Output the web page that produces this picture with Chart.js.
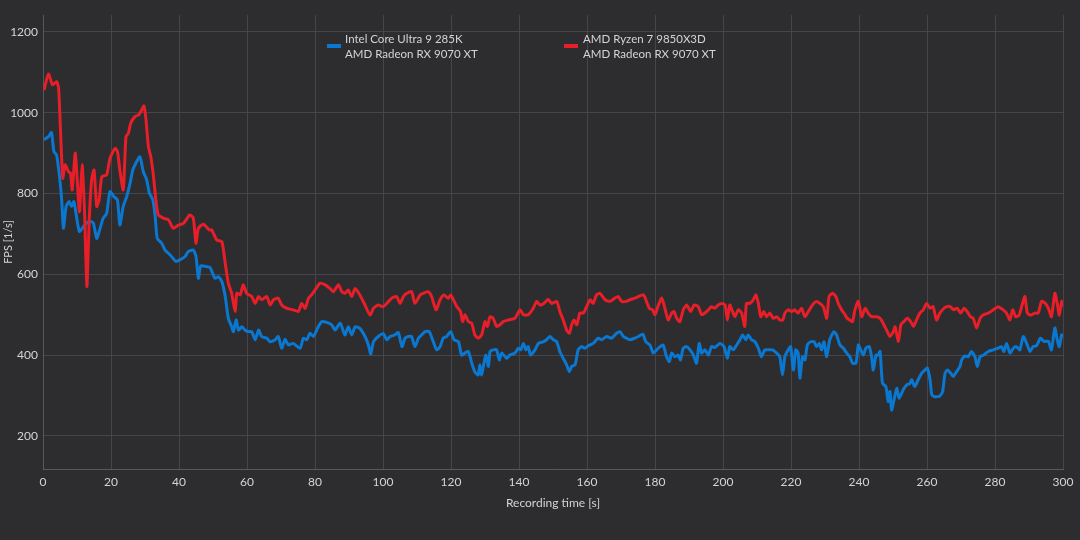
<!DOCTYPE html>
<html lang="en">
<head>
    <meta charset="UTF-8">
    <title>FPS over recording time</title>
    <script src="https://cdn.jsdelivr.net/npm/chart.js"></script>
    <style>
        html, body { margin: 0; padding: 0; background: #2d2d30; }
        .chart-box { width: 1080px; height: 540px; }
    </style>
</head>
<body>
<div class="chart-box"><canvas id="fpsChart"></canvas></div>
<script>
    // Legend text (two lines each)
    const intelLabel = ['Intel Core Ultra 9 285K', 'AMD Radeon RX 9070 XT'];
    const amdLabel = ['AMD Ryzen 7 9850X3D', 'AMD Radeon RX 9070 XT'];

    const yTicks = [200, 400, 600, 800, 1000, 1200];

    // Intel Core Ultra 9 285K - recording time [s] / FPS
    const intelTime = [
        0.3, 1.6, 2.5, 3.2, 4.0, 4.8, 5.5, 6.0, 6.8, 7.7,
        8.4, 9.1, 9.7, 10.7, 11.9, 12.8, 13.8, 14.8, 15.8, 16.8,
        17.7, 18.7, 19.7, 20.9, 21.9, 22.6, 23.6, 24.6, 25.6, 26.4,
        27.3, 28.5, 29.5, 30.5, 31.3, 32.3, 33.0, 33.6, 34.9, 35.9,
        36.9, 37.8, 39.1, 40.3, 41.8, 42.7, 44.2, 45.0, 45.7, 46.4,
        48.1, 49.1, 50.6, 51.6, 52.6, 53.6, 54.5, 55.5, 56.0, 56.8,
        57.5, 58.5, 59.4, 60.4, 61.4, 62.4, 63.4, 64.3, 65.8, 66.8,
        68.3, 69.2, 70.2, 71.2, 72.2, 73.6, 75.6, 76.6, 77.6, 78.5,
        79.5, 80.3, 81.0, 82.0, 83.4, 84.9, 85.9, 87.4, 88.8, 89.8,
        90.8, 91.8, 93.2, 94.7, 95.7, 96.4, 97.2, 98.6, 100.1, 101.1,
        102.1, 103.5, 104.5, 105.6, 106.5, 107.5, 108.4, 109.4, 110.4, 111.4,
        112.4, 113.6, 114.8, 115.8, 116.8, 117.7, 118.7, 119.9, 120.9, 122.2,
        123.1, 124.1, 125.1, 126.1, 127.0, 128.0, 128.5, 129.0, 129.7, 130.3,
        131.0, 131.5, 132.4, 133.4, 134.2, 134.9, 136.4, 137.3, 138.8, 139.8,
        140.5, 141.3, 142.0, 142.7, 143.4, 144.7, 145.7, 147.1, 148.1, 149.1,
        150.1, 151.1, 152.0, 153.0, 154.0, 154.8, 155.5, 156.5, 157.4, 158.4,
        159.4, 160.4, 161.8, 163.3, 164.3, 165.8, 167.2, 168.7, 169.7, 170.7,
        171.6, 172.6, 174.1, 175.1, 176.4, 177.3, 178.5, 179.5, 180.5, 181.5,
        182.4, 183.4, 184.2, 184.9, 185.9, 186.8, 187.5, 188.3, 189.3, 190.3,
        191.3, 192.2, 193.0, 193.7, 194.7, 195.7, 196.6, 197.6, 199.1, 200.3,
        201.3, 202.0, 203.0, 204.0, 205.0, 205.8, 206.7, 207.4, 208.4, 209.4,
        210.4, 211.3, 212.3, 213.3, 214.6, 215.8, 216.7, 217.5, 218.2, 219.2,
        219.9, 220.7, 221.4, 222.1, 222.6, 223.4, 224.1, 224.8, 225.8, 226.8,
        227.5, 228.3, 229.0, 229.7, 230.5, 231.4, 232.6, 233.4, 234.4, 235.4,
        236.4, 237.3, 238.1, 239.1, 239.8, 240.5, 241.3, 242.0, 243.0, 243.7,
        244.2, 245.0, 245.6, 246.2, 246.9, 247.9, 248.6, 249.1, 249.6, 250.3,
        251.1, 251.8, 253.0, 254.0, 255.0, 255.5, 256.4, 257.4, 258.4, 259.4,
        260.1, 260.9, 261.4, 262.3, 263.8, 264.6, 265.3, 266.0, 267.0, 267.7,
        268.7, 269.7, 270.2, 271.2, 272.1, 273.1, 274.1, 274.8, 275.6, 276.7,
        278.0, 279.5, 280.9, 281.9, 282.6, 283.4, 284.4, 285.4, 286.3, 287.3,
        288.3, 289.3, 290.3, 291.2, 292.2, 293.4, 294.4, 295.7, 296.6, 297.6,
        298.3, 298.9, 299.6, 300
    ];
    const intelFps = [
        933, 941, 951, 904, 895, 846, 784, 714, 768, 780,
        768, 780, 751, 706, 718, 727, 731, 727, 689, 714,
        739, 750, 805, 792, 784, 722, 768, 792, 825, 858,
        875, 891, 854, 834, 801, 784, 743, 689, 677, 660,
        652, 644, 632, 636, 644, 656, 660, 644, 590, 621,
        619, 617, 590, 594, 582, 545, 491, 470, 458, 487,
        462, 470, 462, 458, 458, 438, 462, 446, 442, 433,
        438, 446, 417, 439, 425, 429, 417, 442, 438, 454,
        446, 458, 471, 483, 481, 475, 462, 479, 450, 470,
        450, 470, 466, 446, 425, 403, 433, 446, 453, 438,
        446, 450, 456, 421, 442, 446, 446, 421, 442, 450,
        458, 458, 433, 413, 421, 442, 446, 458, 438, 433,
        400, 405, 409, 380, 359, 351, 376, 351, 380, 400,
        372, 409, 413, 413, 388, 405, 392, 400, 405, 417,
        413, 429, 413, 421, 400, 413, 429, 433, 438, 446,
        438, 433, 409, 392, 376, 359, 372, 376, 413, 421,
        417, 423, 429, 442, 438, 446, 442, 454, 458, 446,
        442, 438, 442, 446, 452, 433, 425, 405, 413, 421,
        425, 396, 384, 405, 396, 400, 388, 417, 421, 413,
        400, 380, 429, 405, 413, 400, 421, 419, 429, 421,
        392, 421, 413, 425, 438, 450, 438, 450, 438, 433,
        417, 396, 413, 413, 413, 405, 396, 351, 396, 413,
        421, 363, 413, 405, 343, 396, 388, 425, 433, 433,
        421, 429, 413, 433, 396, 438, 458, 450, 425, 417,
        405, 396, 380, 380, 425, 413, 400, 417, 421, 396,
        363, 400, 400, 409, 330, 322, 285, 310, 264, 289,
        318, 293, 314, 326, 330, 339, 322, 339, 355, 363,
        368, 339, 302, 297, 299, 310, 355, 363, 355, 347,
        359, 372, 388, 398, 396, 409, 396, 372, 396, 400,
        409, 413, 417, 421, 409, 429, 405, 417, 421, 413,
        446, 429, 409, 421, 423, 442, 434, 434, 413, 467,
        438, 421, 450, 446
    ];

    // AMD Ryzen 7 9850X3D - recording time [s] / FPS
    const amdTime = [
        0.3, 1.6, 2.8, 4.0, 4.6, 5.8, 6.5, 7.5, 8.1, 8.6,
        9.5, 10.7, 11.5, 12.2, 12.9, 13.6, 14.3, 15.0, 15.8, 16.5,
        17.3, 18.7, 19.7, 21.2, 21.9, 22.6, 23.6, 24.4, 25.1, 25.8,
        27.1, 28.2, 29.0, 29.7, 30.3, 31.0, 31.7, 32.4, 33.2, 33.9,
        35.4, 36.9, 38.3, 39.8, 41.3, 43.2, 44.2, 45.0, 45.7, 47.2,
        48.9, 49.6, 51.1, 52.6, 53.6, 54.5, 55.5, 56.5, 57.0, 58.0,
        58.9, 59.9, 61.4, 62.4, 63.4, 64.3, 65.8, 66.8, 67.8, 69.2,
        70.2, 71.7, 73.6, 75.1, 76.1, 77.1, 78.1, 79.0, 80.0, 81.5,
        83.0, 84.4, 85.4, 86.9, 87.9, 88.8, 89.8, 90.8, 91.8, 93.2,
        94.7, 96.2, 97.2, 98.6, 100.1, 102.6, 104.0, 105.0, 106.0, 107.0,
        108.4, 109.4, 110.9, 111.9, 113.3, 114.3, 115.6, 116.8, 117.9, 119.2,
        119.9, 120.7, 121.7, 122.8, 123.4, 124.1, 125.1, 126.1, 127.0, 128.0,
        129.0, 130.0, 130.7, 131.5, 132.4, 133.4, 134.4, 135.4, 136.9, 138.8,
        140.3, 141.3, 142.7, 144.2, 145.2, 146.2, 147.3, 148.6, 149.6, 151.1,
        152.0, 153.0, 154.0, 154.8, 155.5, 156.2, 157.0, 157.9, 158.9, 159.9,
        160.9, 161.8, 162.8, 163.8, 165.3, 166.7, 168.2, 169.2, 170.2, 171.6,
        172.6, 174.1, 175.1, 176.6, 177.5, 178.3, 179.3, 180.0, 181.0, 182.0,
        182.9, 183.9, 184.9, 185.6, 186.4, 187.3, 188.3, 189.3, 190.5, 191.5,
        192.7, 193.7, 194.7, 195.7, 196.6, 197.6, 198.6, 199.6, 200.6, 201.3,
        202.0, 202.8, 203.5, 204.5, 205.5, 206.4, 206.9, 207.9, 208.9, 209.7,
        210.4, 211.1, 212.0, 212.8, 213.8, 214.8, 215.8, 216.7, 217.6, 218.2,
        219.2, 220.2, 221.1, 222.1, 223.1, 224.1, 225.1, 226.3, 227.5, 228.5,
        229.5, 230.5, 231.2, 232.2, 233.2, 233.9, 234.9, 235.9, 236.5, 237.3,
        238.1, 238.8, 239.8, 240.8, 241.8, 242.7, 243.7, 245.2, 246.2, 247.1,
        248.1, 249.1, 250.1, 250.6, 251.6, 252.3, 253.2, 254.2, 255.2, 256.0,
        256.9, 257.9, 258.9, 259.9, 260.9, 261.8, 262.8, 263.8, 265.0, 265.8,
        266.8, 267.9, 268.9, 269.9, 270.9, 271.8, 272.8, 273.6, 274.6, 275.6,
        276.5, 278.0, 279.5, 280.9, 282.4, 283.4, 284.4, 285.2, 286.1, 287.1,
        288.1, 288.8, 289.5, 290.5, 291.7, 292.7, 293.7, 294.7, 295.7, 296.6,
        297.6, 298.3, 298.9, 299.6, 300
    ];
    const amdFps = [
        1056, 1096, 1069, 1077, 1060, 838, 871, 854, 850, 809,
        900, 755, 871, 759, 570, 735, 834, 858, 768, 784,
        842, 846, 887, 912, 904, 858, 809, 941, 949, 974,
        991, 995, 1007, 1017, 982, 916, 891, 850, 784, 747,
        739, 735, 714, 722, 726, 747, 739, 677, 714, 724,
        710, 710, 685, 681, 627, 578, 553, 508, 553, 549,
        574, 553, 545, 528, 545, 537, 545, 524, 537, 541,
        524, 516, 512, 508, 528, 516, 541, 549, 561, 578,
        574, 565, 557, 574, 557, 553, 561, 545, 565, 549,
        524, 499, 516, 524, 520, 541, 545, 528, 545, 553,
        557, 528, 549, 553, 557, 545, 512, 537, 549, 541,
        549, 537, 520, 508, 483, 500, 483, 479, 450, 442,
        450, 483, 471, 495, 491, 471, 475, 483, 487, 491,
        512, 500, 500, 516, 533, 524, 528, 538, 528, 533,
        508, 487, 462, 454, 475, 487, 475, 504, 504, 520,
        537, 528, 549, 553, 537, 533, 541, 545, 533, 533,
        537, 541, 545, 549, 533, 516, 512, 500, 524, 541,
        516, 487, 504, 508, 491, 483, 512, 524, 508, 524,
        520, 500, 504, 512, 520, 516, 524, 528, 524, 487,
        524, 508, 495, 512, 504, 471, 528, 528, 537, 549,
        528, 495, 508, 495, 504, 491, 495, 487, 487, 504,
        512, 508, 512, 504, 516, 495, 508, 524, 533, 528,
        520, 491, 545, 553, 545, 528, 512, 500, 491, 487,
        483, 512, 533, 495, 516, 504, 495, 495, 491, 479,
        462, 446, 458, 470, 434, 475, 483, 491, 483, 471,
        487, 504, 512, 528, 516, 520, 487, 504, 516, 520,
        520, 512, 516, 504, 516, 508, 495, 491, 467, 491,
        499, 504, 512, 520, 512, 504, 487, 512, 495, 499,
        528, 545, 504, 499, 504, 504, 533, 529, 516, 495,
        553, 528, 499, 533, 520
    ];

    const textColor = '#d4d4d4';
    const gridColor = '#46464a';
    const fontFamily = 'Lato, "Noto Sans", sans-serif';

    function toPoints(times, values) {
        return times.map((t, i) => ({ x: t, y: values[i] }));
    }

    // Background + two-line legend drawn by hand
    const chartDecor = {
        id: 'chartDecor',
        beforeDraw(chart) {
            const ctx = chart.ctx;
            ctx.save();
            ctx.fillStyle = '#2d2d30';
            ctx.fillRect(0, 0, chart.width, chart.height);
            ctx.restore();
        },
        afterDraw(chart) {
            const ctx = chart.ctx;
            const items = [
                { ds: chart.data.datasets[0], swatchX: 327, textX: 345 },
                { ds: chart.data.datasets[1], swatchX: 564, textX: 583 }
            ];
            ctx.save();
            ctx.font = '11.5px ' + fontFamily;
            ctx.textBaseline = 'middle';
            items.forEach(item => {
                ctx.fillStyle = item.ds.borderColor;
                ctx.fillRect(item.swatchX, 44, 14, 4);
                ctx.fillStyle = textColor;
                item.ds.legendLines.forEach((line, i) => {
                    ctx.fillText(line, item.textX, 39 + i * 15);
                });
            });
            ctx.restore();
        }
    };

    new Chart(document.getElementById('fpsChart').getContext('2d'), {
        type: 'line',
        data: {
            datasets: [
                {
                    label: intelLabel.join(' / '),
                    legendLines: intelLabel,
                    data: toPoints(intelTime, intelFps),
                    borderColor: '#0a77d1',
                    borderWidth: 3,
                    pointRadius: 0,
                    tension: 0.2,
                    order: 2
                },
                {
                    label: amdLabel.join(' / '),
                    legendLines: amdLabel,
                    data: toPoints(amdTime, amdFps),
                    borderColor: '#e81e28',
                    borderWidth: 3,
                    pointRadius: 0,
                    tension: 0.2,
                    order: 1
                }
            ]
        },
        options: {
            responsive: true,
            maintainAspectRatio: false,
            animation: false,
            layout: { padding: { top: 15, right: 17, bottom: 30, left: 0 } },
            plugins: {
                legend: { display: false },
                tooltip: { enabled: false }
            },
            scales: {
                x: {
                    type: 'linear',
                    min: 0,
                    max: 300,
                    ticks: { stepSize: 20, color: textColor, font: { family: fontFamily, size: 12 }, padding: 6, maxRotation: 0 },
                    grid: { color: gridColor, drawTicks: false },
                    border: { color: '#58585c' },
                    title: { display: true, text: 'Recording time [s]', color: textColor, font: { family: fontFamily, size: 12 }, padding: { top: 4, bottom: 0 } },
                    afterFit(scale) { scale.height = 41; }
                },
                y: {
                    min: 118,
                    max: 1242,
                    afterBuildTicks(scale) { scale.ticks = yTicks.map(v => ({ value: v })); },
                    ticks: { color: textColor, font: { family: fontFamily, size: 12 }, padding: 5, callback: v => String(v) },
                    grid: { color: gridColor, drawTicks: false },
                    border: { color: '#58585c' },
                    title: { display: true, text: 'FPS [1/s]', color: textColor, font: { family: fontFamily, size: 11 }, padding: 2 },
                    afterFit(scale) { scale.width = 43; }
                }
            }
        },
        plugins: [chartDecor]
    });
</script>
</body>
</html>
